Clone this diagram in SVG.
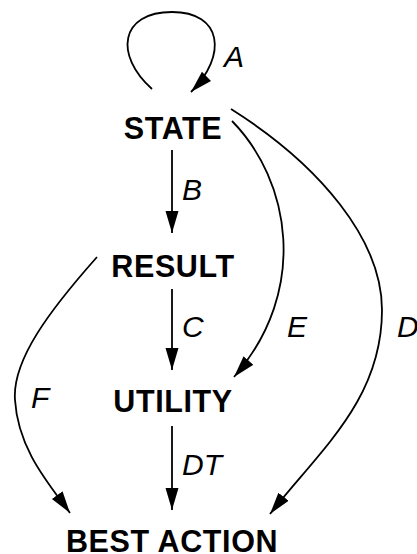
<svg xmlns="http://www.w3.org/2000/svg" width="417" height="554" viewBox="0 0 417 554">
<style>
.node{font-family:"Liberation Sans",Arial,sans-serif;font-weight:bold;font-size:30.5px;letter-spacing:0.6px;fill:#000;text-anchor:middle}
.lbl{font-family:"Liberation Sans",Arial,sans-serif;font-style:italic;font-size:30px;fill:#000}
.edge{fill:none;stroke:#000;stroke-width:1.8}
</style>
<defs>
<marker id="ah" markerUnits="userSpaceOnUse" markerWidth="24" markerHeight="14" refX="22" refY="6.5" orient="auto" viewBox="0 0 24 14">
<path d="M0,0 L22,6.5 L0,13 z" fill="#000"/>
</marker>
</defs>
<rect width="417" height="554" fill="#fff"/>
<g id="connectors">
<path id="eA" class="edge" d="M152,89 C114,55 120,12 172,12 C222,12 228,55 191,92" marker-end="url(#ah)"/>
<path id="eB" class="edge" d="M172,150 L172,233" marker-end="url(#ah)"/>
<path id="eC" class="edge" d="M172,289 L172,370" marker-end="url(#ah)"/>
<path id="eDT" class="edge" d="M172,426 L172,510" marker-end="url(#ah)"/>
<path id="eE" class="edge" d="M232,121 C290,180 310,290 234,377" marker-end="url(#ah)"/>
<path id="eD" class="edge" d="M231,109 C320,165 382,240 382,310 C382,400 320,450 270,514" marker-end="url(#ah)"/>
<path id="eF" class="edge" d="M97,257 C50,310 12,360 15,400 C18,450 50,485 70,513" marker-end="url(#ah)"/>
<text class="lbl" x="224" y="67">A</text>
<text class="lbl" x="182" y="200">B</text>
<text class="lbl" x="182" y="337">C</text>
<text class="lbl" x="287" y="337">E</text>
<text class="lbl" x="397" y="337">D</text>
<text class="lbl" x="31" y="408">F</text>
<text class="lbl" x="182" y="475">DT</text>
</g>
<g id="state"><text class="node" x="173" y="139">STATE</text></g>
<g id="result"><text class="node" x="173" y="277">RESULT</text></g>
<g id="utility"><text class="node" x="173" y="412">UTILITY</text></g>
<g id="best-action"><text class="node" x="172" y="552">BEST ACTION</text></g>
</svg>
